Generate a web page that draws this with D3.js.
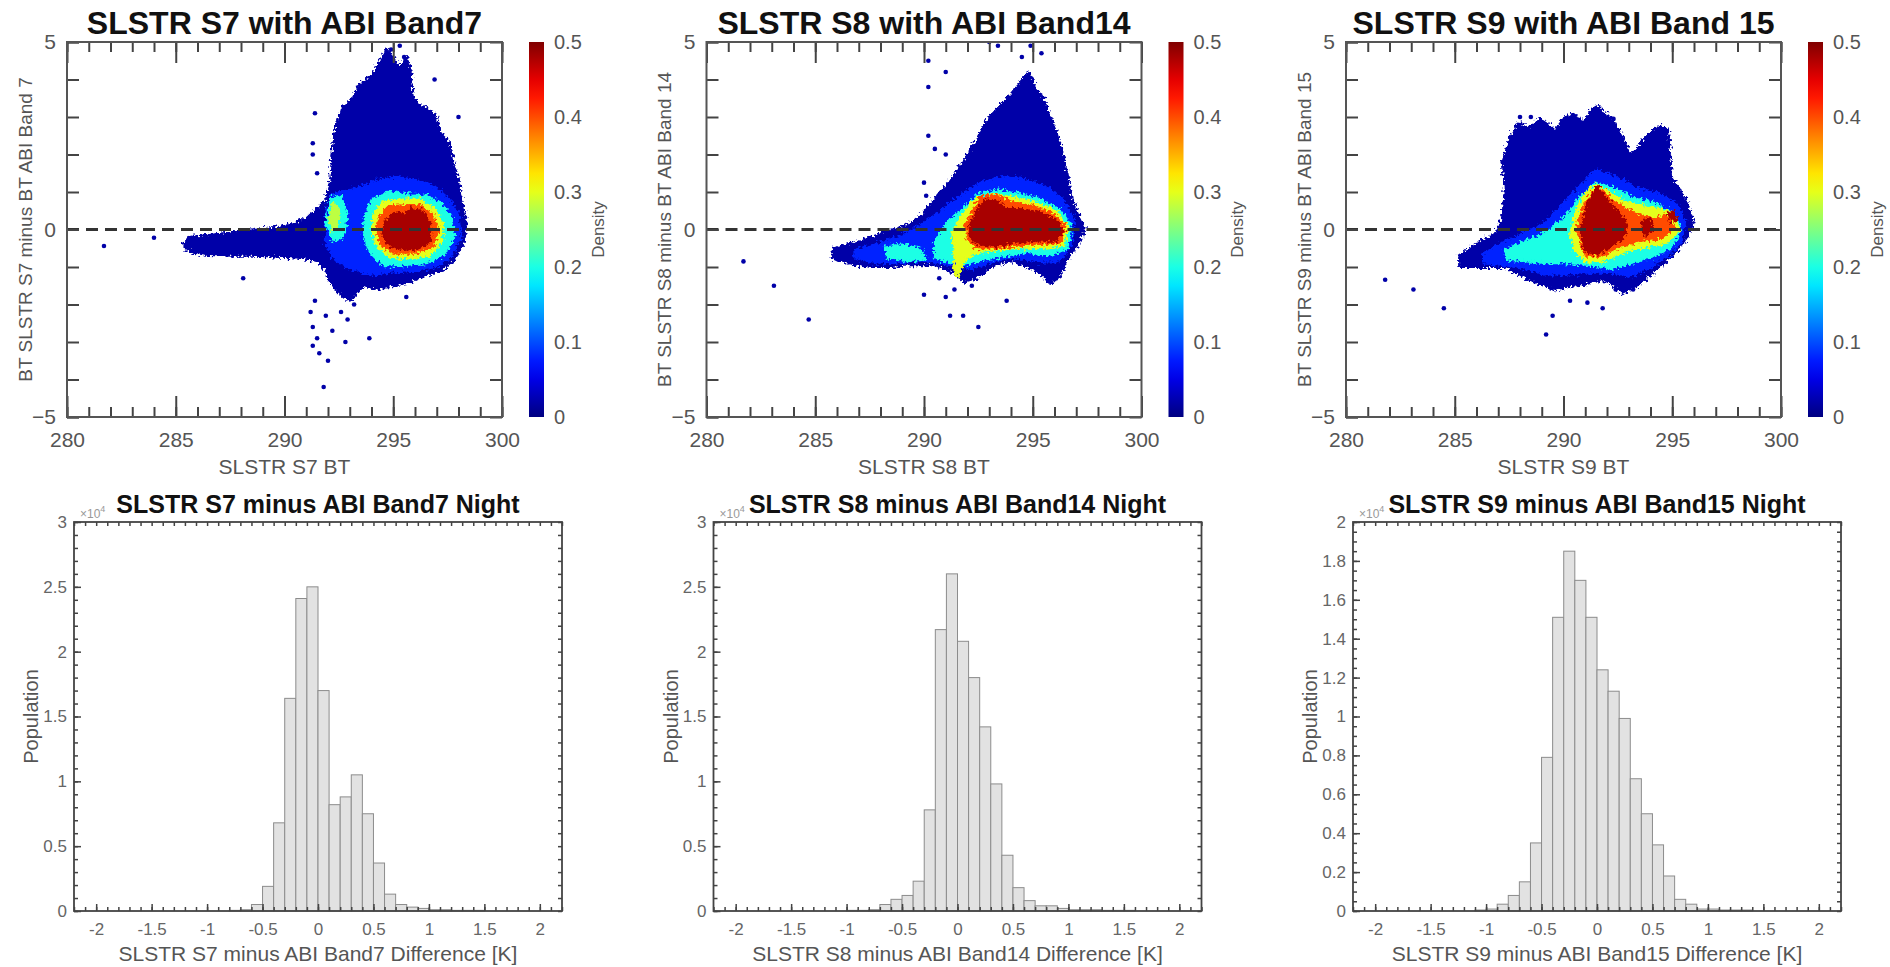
<!DOCTYPE html>
<html>
<head>
<meta charset="utf-8">
<script src="https://cdn.jsdelivr.net/npm/d3@7"></script>
<style>
  body { margin: 0; background: #fff; }
  svg text { font-family: "Liberation Sans", Arial, sans-serif; }
</style>
</head>
<body>
<svg id="chart" width="1890" height="967"></svg>
<script>
// ---- text ----
const scatterTitles = ['SLSTR S7 with ABI Band7', 'SLSTR S8 with ABI Band14', 'SLSTR S9 with ABI Band 15'];
const scatterXLabels = ['SLSTR S7 BT', 'SLSTR S8 BT', 'SLSTR S9 BT'];
const scatterYLabels = ['BT SLSTR S7 minus BT ABI Band 7', 'BT SLSTR S8 minus BT ABI Band 14', 'BT SLSTR S9 minus BT ABI Band 15'];
const histTitles = ['SLSTR S7 minus ABI Band7 Night', 'SLSTR S8 minus ABI Band14 Night', 'SLSTR S9 minus ABI Band15 Night'];
const histXLabels = ['SLSTR S7 minus ABI Band7 Difference [K]', 'SLSTR S8 minus ABI Band14 Difference [K]', 'SLSTR S9 minus ABI Band15 Difference [K]'];

// ---- ticks ----
const btTicks = [280, 285, 290, 295, 300];
const diffTicks = [-5, 0, 5];
const densityTicks = [0, 0.1, 0.2, 0.3, 0.4, 0.5];
const histXTicks = [-2, -1.5, -1, -0.5, 0, 0.5, 1, 1.5, 2];
const histYTicksWide = [0, 0.5, 1, 1.5, 2, 2.5, 3];
const histYTicksNarrow = [0, 0.2, 0.4, 0.6, 0.8, 1, 1.2, 1.4, 1.6, 1.8, 2];

// ---- density regions: [density, [[BT, diff], ...]] ----
const s7Density = [
  [0.02, [[285.4,-0.35],[285.6,-0.2],[286.4,-0.15],[287.2,-0.1],[288.0,-0.05],[288.8,0.0],[289.6,0.05],[290.4,0.15],[291.0,0.3],[291.5,0.55],[291.9,0.8],
          [292.1,1.3],[292.2,2.0],[292.3,2.6],[292.6,3.2],[293.1,3.5],[293.5,3.9],[294.0,4.1],[294.3,4.4],[294.7,4.8],[295.0,4.6],[295.3,4.3],[295.6,4.6],[295.8,4.2],
          [295.9,3.5],[296.3,3.3],[296.9,3.1],[297.2,2.6],[297.6,2.3],[297.8,1.7],[298.0,1.3],[298.2,0.7],[298.4,0.1],[298.2,-0.4],[297.8,-0.8],[297.2,-1.1],
          [296.5,-1.2],[295.8,-1.4],[295.0,-1.5],[294.3,-1.6],[293.6,-1.5],[293.0,-1.9],[292.5,-1.7],[292.1,-1.4],[291.8,-1.0],[291.3,-0.8],[290.5,-0.75],
          [289.5,-0.72],[288.5,-0.7],[287.5,-0.7],[286.5,-0.68],[285.8,-0.62],[285.4,-0.5]]],
  [0.08, [[291.9,0.4],[292.1,0.9],[292.6,1.0],[293.3,1.1],[294.2,1.3],[295.2,1.4],[296.2,1.3],[297.0,1.1],[297.6,0.8],[298.0,0.4],[298.1,-0.2],[297.7,-0.7],
          [297.0,-1.0],[296.0,-1.1],[295.0,-1.15],[294.0,-1.2],[293.0,-1.05],[292.3,-0.8],[291.9,-0.4]]],
  [0.2,  [[293.7,0.3],[294.0,0.8],[294.8,1.0],[295.6,0.95],[296.5,0.9],[297.2,0.7],[297.7,0.3],[297.8,-0.2],[297.3,-0.7],[296.5,-0.9],[295.5,-0.95],
          [294.5,-0.95],[293.9,-0.6],[293.6,-0.1]]],
  [0.2,  [[291.9,0.2],[292.1,0.85],[292.6,0.9],[292.9,0.4],[292.7,-0.2],[292.2,-0.3]]],
  [0.3,  [[294.1,0.4],[294.5,0.75],[295.3,0.8],[296.2,0.8],[296.9,0.55],[297.3,0.15],[297.2,-0.35],[296.7,-0.7],[295.8,-0.78],[294.8,-0.72],[294.2,-0.4],[294.0,0.0]]],
  [0.28, [[292.05,0.3],[292.2,0.7],[292.5,0.6],[292.45,0.1],[292.2,-0.05]]],
  [0.4,  [[294.35,0.3],[294.7,0.6],[295.4,0.65],[296.2,0.66],[296.8,0.42],[297.05,0.0],[296.85,-0.45],[296.0,-0.62],[295.0,-0.62],[294.45,-0.4],[294.25,0.0]]],
  [0.48, [[294.6,0.2],[295.0,0.45],[295.5,0.4],[295.8,0.55],[296.3,0.5],[296.7,0.2],[296.7,-0.3],[296.2,-0.5],[295.5,-0.55],[294.8,-0.45],[294.5,-0.15]]]
];
const s8Density = [
  [0.02, [[285.8,-0.5],[286.5,-0.4],[287.3,-0.25],[288.3,-0.05],[289.2,0.1],[289.9,0.4],[290.5,0.8],[291.2,1.3],[291.9,1.9],[292.5,2.5],[293.0,3.0],[293.5,3.3],
          [294.0,3.6],[294.4,3.9],[294.8,4.2],[295.1,3.8],[295.5,3.5],[295.8,3.0],[296.1,2.6],[296.4,2.0],[296.6,1.4],[296.8,0.8],[297.1,0.4],[297.4,0.05],
          [297.1,-0.4],[296.6,-0.8],[296.2,-1.3],[295.8,-1.45],[295.4,-1.2],[294.8,-1.0],[294.0,-0.85],[293.2,-0.95],[292.4,-1.3],[291.8,-1.4],[291.2,-1.1],
          [290.5,-0.95],[289.5,-0.95],[288.5,-1.0],[287.5,-1.0],[286.5,-0.9],[285.8,-0.8]]],
  [0.08, [[286.8,-0.55],[288.0,-0.35],[289.2,-0.1],[290.2,0.25],[291.0,0.6],[291.8,0.95],[292.6,1.25],[293.6,1.4],[294.6,1.35],[295.6,1.15],[296.4,0.8],[296.9,0.3],
          [296.8,-0.4],[296.2,-0.85],[295.2,-0.85],[294.2,-0.75],[293.2,-0.85],[292.2,-1.05],[291.2,-0.95],[290.0,-0.85],[288.8,-0.9],[287.6,-0.88],[286.8,-0.75]]],
  [0.2,  [[288.2,-0.45],[289.0,-0.4],[289.8,-0.5],[290.1,-0.8],[289.2,-0.85],[288.3,-0.75]]],
  [0.2,  [[290.5,-0.3],[291.1,0.2],[291.8,0.55],[292.5,0.95],[293.4,1.05],[294.4,0.95],[295.4,0.8],[296.2,0.55],[296.8,0.1],[296.6,-0.5],
          [295.8,-0.7],[294.8,-0.6],[293.8,-0.7],[292.8,-0.8],[291.8,-0.95],[291.0,-0.85],[290.5,-0.75]]],
  [0.3,  [[291.3,-0.1],[291.7,0.35],[292.3,0.8],[293.2,0.95],[294.2,0.85],[295.2,0.72],[296.1,0.48],[296.65,0.05],[296.4,-0.42],[295.5,-0.5],[294.4,-0.48],
          [293.3,-0.56],[292.5,-0.6],[291.9,-0.8],[291.6,-1.25],[291.4,-1.2],[291.4,-0.6]]],
  [0.4,  [[291.9,0.1],[292.3,0.55],[292.6,0.88],[293.3,0.92],[294.1,0.72],[295.0,0.63],[295.9,0.43],[296.5,0.08],[296.3,-0.35],[295.4,-0.4],[294.4,-0.42],[293.3,-0.5],
          [292.4,-0.5],[292.0,-0.25]]],
  [0.48, [[292.1,0.1],[292.5,0.55],[292.8,0.8],[293.3,0.78],[293.8,0.55],[294.5,0.55],[295.3,0.45],[296.0,0.3],[296.4,0.0],[296.1,-0.3],[295.2,-0.3],[294.3,-0.35],
          [293.3,-0.45],[292.5,-0.4],[292.1,-0.2]]]
];
const s9Density = [
  [0.02, [[285.2,-0.7],[286.1,-0.35],[286.9,-0.1],[287.2,0.4],[287.3,1.1],[287.2,1.8],[287.5,2.4],[287.9,2.85],[288.4,2.7],[288.9,2.95],[289.3,2.8],[289.6,2.65],
          [290.0,2.95],[290.4,3.1],[290.9,2.9],[291.3,3.2],[291.6,3.3],[291.9,3.1],[292.2,3.0],[292.5,2.7],[292.8,2.4],[293.1,1.95],[293.4,2.2],[293.7,2.4],
          [294.0,2.6],[294.4,2.75],[294.8,2.7],[294.9,2.0],[295.0,1.35],[295.4,1.0],[295.7,0.7],[296.0,0.2],[295.7,-0.2],[295.3,-0.5],[295.0,-0.7],[294.6,-0.9],
          [294.2,-1.1],[293.8,-1.3],[293.4,-1.5],[292.7,-1.7],[292.3,-1.5],[291.9,-1.35],[291.1,-1.45],[290.4,-1.5],[289.6,-1.6],[288.9,-1.45],[288.1,-1.25],
          [287.3,-1.0],[286.2,-1.0],[285.2,-1.0]]],
  [0.08, [[286.3,-0.65],[287.2,-0.35],[288.2,-0.1],[289.2,0.2],[290.0,0.7],[290.8,1.2],[291.5,1.6],[292.4,1.4],[293.4,1.1],[294.4,0.95],[295.2,0.7],[295.6,0.2],
          [295.4,-0.35],[294.8,-0.7],[294.0,-1.0],[293.1,-1.25],[292.2,-1.15],[291.2,-1.15],[290.2,-1.2],[289.2,-1.2],[288.2,-1.05],[287.2,-0.95],[286.3,-0.9]]],
  [0.2,  [[287.3,-0.55],[288.3,-0.3],[289.3,-0.05],[290.1,0.35],[290.8,0.9],[291.5,1.25],[292.3,1.1],[293.2,0.85],[294.2,0.7],[295.0,0.45],[295.4,0.05],[295.0,-0.45],
          [294.2,-0.7],[293.2,-0.9],[292.2,-1.05],[291.2,-0.95],[290.2,-0.9],[289.2,-0.9],[288.2,-0.85],[287.4,-0.8]]],
  [0.3,  [[290.3,-0.1],[290.6,0.5],[291.0,1.0],[291.5,1.2],[292.1,1.0],[292.8,0.75],[293.6,0.65],[294.4,0.55],[295.1,0.45],[295.3,0.0],[294.8,-0.35],[293.8,-0.45],
          [292.8,-0.6],[291.8,-0.85],[291.0,-0.85],[290.5,-0.55]]],
  [0.4,  [[290.6,0.0],[290.9,0.6],[291.3,1.0],[291.7,1.1],[292.2,0.8],[292.9,0.55],[293.6,0.35],[294.3,0.3],[294.9,0.4],[295.1,0.05],[294.5,-0.25],[293.6,-0.3],
          [292.6,-0.45],[291.8,-0.7],[291.0,-0.7]]],
  [0.48, [[290.8,-0.1],[291.0,0.5],[291.3,0.9],[291.6,1.15],[291.9,0.85],[292.4,0.55],[292.9,0.2],[292.8,-0.2],[292.2,-0.45],[291.6,-0.65],[291.0,-0.6]]],
  [0.48, [[293.6,0.2],[294.0,0.3],[294.1,-0.05],[293.7,-0.15]]],
  [0.48, [[294.8,0.45],[295.1,0.5],[295.2,0.25],[294.9,0.2]]]
];

// ---- isolated low-density points ----
const s7Dots = [[281.7,-0.44],[284.0,-0.22],[288.1,-1.3],[291.4,3.1],[291.3,2.3],[291.3,2.0],[291.5,1.5],[291.4,-1.9],[291.2,-2.2],[291.3,-2.6],
  [291.5,-2.9],[291.3,-3.1],[291.6,-3.3],[292.0,-3.5],[291.8,-4.2],[292.2,-2.7],[292.6,-2.2],[292.9,-2.4],[293.2,-2.0],[293.9,-2.9],[295.6,-1.8],
  [296.9,4.0],[298.0,3.0],[294.9,4.8],[295.3,4.9],[295.5,4.6],[294.6,4.6],[292.8,-3.0],[291.9,-2.3]];
const s8Dots = [[281.7,-0.85],[283.1,-1.5],[284.7,-2.4],[290.2,3.8],[290.2,4.5],[291.0,4.2],[290.2,2.5],[290.5,2.15],[291.0,2.0],[290.0,1.25],
  [290.1,0.9],[290.0,-1.74],[291.0,-1.8],[291.2,-2.3],[291.8,-2.3],[292.5,-2.6],[293.8,-1.9],[294.9,4.9],[295.4,4.7],[293.4,4.9],[293.0,5.0],
  [294.5,4.6],[290.7,-1.3],[291.4,-1.6],[292.2,-1.5]];
const s9Dots = [[281.8,-1.34],[283.1,-1.6],[284.5,-2.1],[289.2,-2.8],[289.5,-2.3],[291.8,-2.1],[291.1,-1.95],[290.3,-1.9],[292.4,-1.6],
  [292.7,-1.6],[293.2,-1.6],[287.2,1.8],[288.0,3.0],[288.5,3.0],[292.3,2.95]];

// ---- histograms: bin left edge [K] and population ----
const s7BinLeft = [-0.8,-0.7,-0.6,-0.5,-0.4,-0.3,-0.2,-0.1,0,0.1,0.2,0.3,0.4,0.5,0.6,0.7,0.8,0.9,1.0,1.1,1.2,1.3,1.4];
const s7Counts  = [50,100,500,1900,6800,16400,24100,25000,17000,8200,8800,10500,7500,3700,1300,500,300,200,100,100,50,50,50];
const s8BinLeft = [-1.0,-0.9,-0.8,-0.7,-0.6,-0.5,-0.4,-0.3,-0.2,-0.1,0,0.1,0.2,0.3,0.4,0.5,0.6,0.7,0.8,0.9,1.0,1.1,1.2,1.3,1.4,1.5];
const s8Counts  = [50,50,100,500,900,1200,2300,7800,21700,26000,20800,18000,14200,9800,4300,1800,800,400,400,200,100,100,100,50,50,50];
const s9BinLeft = [-1.1,-1.0,-0.9,-0.8,-0.7,-0.6,-0.5,-0.4,-0.3,-0.2,-0.1,0,0.1,0.2,0.3,0.4,0.5,0.6,0.7,0.8,0.9,1.0,1.1,1.2,1.3];
const s9Counts  = [50,100,350,800,1500,3500,7900,15100,18500,17000,15100,12400,11300,9900,6800,5000,3400,1800,600,350,100,100,50,50,50];
const binWidth = 0.1;

// ---- layout ----
const panelStep = 639.5;
const sc = { left: 67, top: 42, width: 435, height: 375 };
const hs = { left: 74, top: 522, width: 488, height: 389 };

const svg = d3.select('#chart');
const defs = svg.append('defs');

// MATLAB-style jet colormap
function jet(t) {
  const c = v => Math.max(0, Math.min(1, v));
  const r = c(1.5 - Math.abs(4 * t - 3));
  const g = c(1.5 - Math.abs(4 * t - 2));
  const b = c(1.5 - Math.abs(4 * t - 1));
  return d3.rgb(r * 255, g * 255, b * 255).formatHex();
}

const grad = defs.append('linearGradient')
  .attr('id', 'jetGrad')
  .attr('x1', 0).attr('y1', 1).attr('x2', 0).attr('y2', 0);
grad.selectAll('stop')
  .data(d3.range(0, 1.0001, 0.05))
  .join('stop')
  .attr('offset', d => d)
  .attr('stop-color', d => jet(d));

// ragged edges so the density patches read like a cloud of points
const rough = defs.append('filter').attr('id', 'rough')
  .attr('x', '-5%').attr('y', '-5%').attr('width', '110%').attr('height', '110%');
rough.append('feTurbulence')
  .attr('type', 'fractalNoise').attr('baseFrequency', 0.35).attr('numOctaves', 2).attr('seed', 4)
  .attr('result', 'noise');
rough.append('feDisplacementMap')
  .attr('in', 'SourceGraphic').attr('in2', 'noise').attr('scale', 9)
  .attr('xChannelSelector', 'R').attr('yChannelSelector', 'G');

function styleAxis(sel, size, color) {
  sel.select('.domain').remove();
  sel.selectAll('line').attr('stroke', '#444').attr('stroke-width', 2);
  sel.selectAll('text').attr('font-size', size).attr('fill', color);
}

function drawScatter(i, regions, dots) {
  const g = svg.append('g').attr('transform', `translate(${i * panelStep + sc.left},${sc.top})`);
  const x = d3.scaleLinear().domain([280, 300]).range([0, sc.width]);
  const y = d3.scaleLinear().domain([-5, 5]).range([sc.height, 0]);

  defs.append('clipPath').attr('id', `clipS${i}`)
    .append('rect').attr('width', sc.width).attr('height', sc.height);
  const plot = g.append('g').attr('clip-path', `url(#clipS${i})`);

  const area = d3.line().x(d => x(d[0])).y(d => y(d[1])).curve(d3.curveLinearClosed);
  plot.selectAll('circle')
    .data(dots)
    .join('circle')
    .attr('cx', d => x(d[0]))
    .attr('cy', d => y(d[1]))
    .attr('r', 2.3)
    .attr('fill', jet(0.04));
  plot.append('g')
    .attr('filter', 'url(#rough)')
    .selectAll('path')
    .data(regions)
    .join('path')
    .attr('d', d => area(d[1]))
    .attr('fill', d => jet(d[0] / 0.5))
    .attr('stroke', d => jet(d[0] / 0.5))
    .attr('stroke-width', 2)
    .attr('stroke-linejoin', 'round');

  plot.append('line')
    .attr('x1', x(280)).attr('x2', x(300))
    .attr('y1', y(0)).attr('y2', y(0))
    .attr('stroke', '#333')
    .attr('stroke-width', 3)
    .attr('stroke-dasharray', '12,7');

  // inward ticks on all four sides
  const minorX = d3.range(280, 301);
  const minorY = d3.range(-5, 6);
  g.append('g').attr('transform', `translate(0,${sc.height})`)
    .call(d3.axisBottom(x).tickValues(minorX).tickSize(-10).tickFormat(''))
    .call(s => styleAxis(s, 21, '#555'));
  g.append('g').attr('transform', `translate(0,${sc.height})`)
    .call(d3.axisBottom(x).tickValues(btTicks).tickSize(-21).tickPadding(15).tickFormat(d3.format('d')))
    .call(s => styleAxis(s, 21, '#555'));
  g.append('g')
    .call(d3.axisTop(x).tickValues(minorX).tickSize(-10).tickFormat(''))
    .call(s => styleAxis(s, 21, '#555'));
  g.append('g')
    .call(d3.axisTop(x).tickValues(btTicks).tickSize(-21).tickFormat(''))
    .call(s => styleAxis(s, 21, '#555'));
  g.append('g')
    .call(d3.axisLeft(y).tickValues(minorY).tickSize(-12).tickFormat(''))
    .call(s => styleAxis(s, 21, '#555'));
  g.append('g')
    .call(d3.axisLeft(y).tickValues(diffTicks).tickSize(-12).tickPadding(11).tickFormat(d3.format('d')))
    .call(s => styleAxis(s, 21, '#555'));
  g.append('g').attr('transform', `translate(${sc.width},0)`)
    .call(d3.axisRight(y).tickValues(minorY).tickSize(-12).tickFormat(''))
    .call(s => styleAxis(s, 21, '#555'));

  g.append('rect')
    .attr('width', sc.width).attr('height', sc.height)
    .attr('fill', 'none').attr('stroke', '#555').attr('stroke-width', 2);

  // colorbar
  const cbX = sc.width + 27, cbW = 15;
  const cb = d3.scaleLinear().domain([0, 0.5]).range([sc.height, 0]);
  g.append('rect')
    .attr('x', cbX).attr('y', 0)
    .attr('width', cbW).attr('height', sc.height)
    .attr('fill', 'url(#jetGrad)');
  g.append('g').attr('transform', `translate(${cbX + cbW},0)`)
    .call(d3.axisRight(cb).tickValues(densityTicks).tickSize(0).tickPadding(10).tickFormat(d => d))
    .call(s => styleAxis(s, 20, '#555'));
  g.append('text')
    .attr('transform', `translate(${sc.width + 96},${sc.height / 2}) rotate(-90)`)
    .attr('text-anchor', 'middle')
    .attr('dy', '0.35em')
    .attr('font-size', 17)
    .attr('fill', '#555')
    .text('Density');

  g.append('text')
    .attr('x', sc.width / 2).attr('y', -8)
    .attr('text-anchor', 'middle')
    .attr('font-size', 32).attr('font-weight', 'bold').attr('fill', '#111')
    .text(scatterTitles[i]);
  g.append('text')
    .attr('x', sc.width / 2).attr('y', 432)
    .attr('text-anchor', 'middle')
    .attr('font-size', 21).attr('fill', '#555')
    .text(scatterXLabels[i]);
  g.append('text')
    .attr('transform', `translate(-42,${sc.height / 2}) rotate(-90)`)
    .attr('text-anchor', 'middle')
    .attr('dy', '0.35em')
    .attr('font-size', 19).attr('fill', '#555')
    .text(scatterYLabels[i]);
}

function drawHist(i, binLeft, counts, yTicks) {
  const g = svg.append('g').attr('transform', `translate(${i * panelStep + hs.left},${hs.top})`);
  const yMax = yTicks[yTicks.length - 1];
  const x = d3.scaleLinear().domain([-2.2, 2.2]).range([0, hs.width]);
  const y = d3.scaleLinear().domain([0, yMax * 1e4]).range([hs.height, 0]);
  const bins = binLeft.map((b, k) => ({ b, c: counts[k] }));

  g.selectAll('rect.bar')
    .data(bins)
    .join('rect')
    .attr('class', 'bar')
    .attr('x', d => x(d.b))
    .attr('y', d => y(d.c))
    .attr('width', d => x(d.b + binWidth) - x(d.b))
    .attr('height', d => hs.height - y(d.c))
    .attr('fill', '#e2e2e2')
    .attr('stroke', '#8c8c8c')
    .attr('stroke-width', 1);

  const minorX = d3.range(-22, 23).map(v => v / 10);
  const yStep = yMax === 3 ? 0.1 : 0.05;
  const minorY = d3.range(0, Math.round(yMax / yStep) + 1).map(v => v * yStep * 1e4);
  const fmtY = d => String(+(d / 1e4).toFixed(2));

  const hsAxis = s => {
    s.select('.domain').remove();
    s.selectAll('line').attr('stroke', '#444').attr('stroke-width', 1.5);
    s.selectAll('text').attr('font-size', 17).attr('fill', '#666');
  };
  g.append('g').attr('transform', `translate(0,${hs.height})`)
    .call(d3.axisBottom(x).tickValues(minorX).tickSize(-4).tickFormat('')).call(hsAxis);
  g.append('g').attr('transform', `translate(0,${hs.height})`)
    .call(d3.axisBottom(x).tickValues(histXTicks).tickSize(-7).tickPadding(12).tickFormat(d => d)).call(hsAxis);
  g.append('g')
    .call(d3.axisTop(x).tickValues(minorX).tickSize(-4).tickFormat('')).call(hsAxis);
  g.append('g')
    .call(d3.axisLeft(y).tickValues(minorY).tickSize(-4).tickFormat('')).call(hsAxis);
  g.append('g')
    .call(d3.axisLeft(y).tickValues(yTicks.map(v => v * 1e4)).tickSize(-7).tickPadding(7).tickFormat(fmtY)).call(hsAxis);
  g.append('g').attr('transform', `translate(${hs.width},0)`)
    .call(d3.axisRight(y).tickValues(minorY).tickSize(-4).tickFormat('')).call(hsAxis);

  g.append('rect')
    .attr('width', hs.width).attr('height', hs.height)
    .attr('fill', 'none').attr('stroke', '#444').attr('stroke-width', 1.8);

  const ex = g.append('text')
    .attr('x', 6).attr('y', -4)
    .attr('font-size', 12).attr('fill', '#999')
    .text('×10');
  ex.append('tspan').attr('dy', -6).attr('font-size', 9).text('4');

  g.append('text')
    .attr('x', hs.width / 2).attr('y', -9)
    .attr('text-anchor', 'middle')
    .attr('font-size', 25).attr('font-weight', 'bold').attr('fill', '#111')
    .text(histTitles[i]);
  g.append('text')
    .attr('x', hs.width / 2).attr('y', 439)
    .attr('text-anchor', 'middle')
    .attr('font-size', 21).attr('fill', '#555')
    .text(histXLabels[i]);
  g.append('text')
    .attr('transform', `translate(-43,${hs.height / 2}) rotate(-90)`)
    .attr('text-anchor', 'middle')
    .attr('dy', '0.35em')
    .attr('font-size', 20).attr('fill', '#555')
    .text('Population');
}

drawScatter(0, s7Density, s7Dots);
drawScatter(1, s8Density, s8Dots);
drawScatter(2, s9Density, s9Dots);
drawHist(0, s7BinLeft, s7Counts, histYTicksWide);
drawHist(1, s8BinLeft, s8Counts, histYTicksWide);
drawHist(2, s9BinLeft, s9Counts, histYTicksNarrow);
</script>
</body>
</html>
